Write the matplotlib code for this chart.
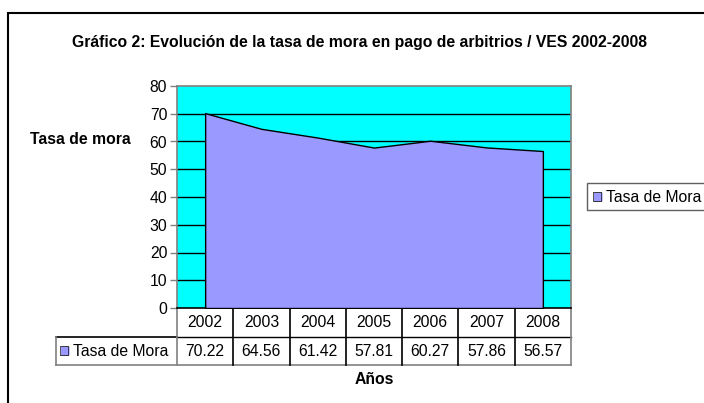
import numpy as np
import matplotlib.pyplot as plt
from matplotlib.patches import Rectangle
from matplotlib.transforms import blended_transform_factory

plt.rcParams['font.family'] = ['Liberation Sans', 'DejaVu Sans']

years = ['2002', '2003', '2004', '2005', '2006', '2007', '2008']
tasa_mora = [70.22, 64.56, 61.42, 57.81, 60.27, 57.86, 56.57]
serie = 'Tasa de Mora'
yticks = [0, 10, 20, 30, 40, 50, 60, 70, 80]

W, H = 704, 403
FS = 11.3
fig = plt.figure(figsize=(W / 100, H / 100), dpi=100)
fig.patch.set_facecolor('white')

# outer chart frame (right and bottom edges run off the picture)
fig.patches.append(Rectangle((8 / W, -0.1), 1.2, 1.1 - 13 / H, transform=fig.transFigure,
                             fill=False, edgecolor='black', linewidth=1.5))

ax = fig.add_axes([177 / W, 1 - 308 / H, (571 - 177) / W, (308 - 86) / H])
ax.set_facecolor('#00FFFF')

x = np.arange(len(years))
ax.fill_between(x, tasa_mora, 0, facecolor='#9999FF', edgecolor='black', linewidth=1, zorder=3)

ax.set_xlim(-0.5, len(years) - 0.5)
ax.set_ylim(0, 80)
ax.set_yticks(yticks)
for v in yticks[1:-1]:
    ax.axhline(v, color='black', linewidth=1, zorder=2)
ax.set_xticks([])
ax.tick_params(axis='y', length=5, width=1, color='#808080', labelsize=FS, pad=2)
for s in ax.spines.values():
    s.set_color('#808080')
    s.set_linewidth(1.2)
ax.spines['bottom'].set_color('black')

# data table under the plot
tr = blended_transform_factory(ax.transData, ax.transAxes)
r1 = -29 / 222
r2 = -57 / 222
xl = -0.5 - 121 / 394 * len(years)
xr = len(years) - 0.5
ax.plot([-0.5, xr], [r1, r1], color='black', linewidth=1, transform=tr, clip_on=False)
ax.plot([xl, xr], [r2, r2], color='#808080', linewidth=1.2, transform=tr, clip_on=False)
ax.plot([xl, -0.5], [r1, r1], color='black', linewidth=1.2, transform=tr, clip_on=False)
ax.plot([xl, xl], [r1, r2], color='#808080', linewidth=1.2, transform=tr, clip_on=False)
for i in range(len(years) + 1):
    c = '#808080' if i in (0, len(years)) else 'black'
    ax.plot([i - 0.5, i - 0.5], [0, r2], color=c, linewidth=1.2, transform=tr, clip_on=False)
for i, (yr, v) in enumerate(zip(years, tasa_mora)):
    ax.text(i, (0 + r1) / 2, yr, transform=tr, ha='center', va='center', fontsize=FS)
    ax.text(i, (r1 + r2) / 2, f'{v:.2f}', transform=tr, ha='center', va='center', fontsize=FS)
ax.text(xl + 0.07, (r1 + r2) / 2, '\u25A0', transform=tr, ha='left', va='center',
        fontsize=8, color='#9999FF', family=['DejaVu Sans'])
ax.text(xl + 0.06, (r1 + r2) / 2, '\u25A1', transform=tr, ha='left', va='center',
        fontsize=8.5, color='black', family=['DejaVu Sans'])
ax.text(xl + 0.30, (r1 + r2) / 2, serie, transform=tr, ha='left', va='center', fontsize=FS)

# titles
fig.text(360 / W, 1 - 42 / H, 'Gráfico 2: Evolución de la tasa de mora en pago de arbitrios / VES 2002-2008',
         ha='center', va='center', fontsize=FS, fontweight='bold')
fig.text(80 / W, 1 - 140 / H, 'Tasa de mora', ha='center', va='center', fontsize=FS, fontweight='bold')
fig.text(374 / W, 1 - 380 / H, 'Años', ha='center', va='center', fontsize=FS, fontweight='bold')

# legend box at right
fig.patches.append(Rectangle((587 / W, 1 - 210 / H), 0.3, 27 / H, transform=fig.transFigure,
                             facecolor='white', edgecolor='#606060', linewidth=1))
fig.text(593 / W, 1 - 197 / H, '\u25A0', ha='left', va='center', fontsize=8,
         color='#9999FF', family=['DejaVu Sans'])
fig.text(592 / W, 1 - 197 / H, '\u25A1', ha='left', va='center', fontsize=8.5,
         color='black', family=['DejaVu Sans'])
fig.text(606 / W, 1 - 197 / H, serie, ha='left', va='center', fontsize=FS)

fig.savefig('out.png', dpi=100)
